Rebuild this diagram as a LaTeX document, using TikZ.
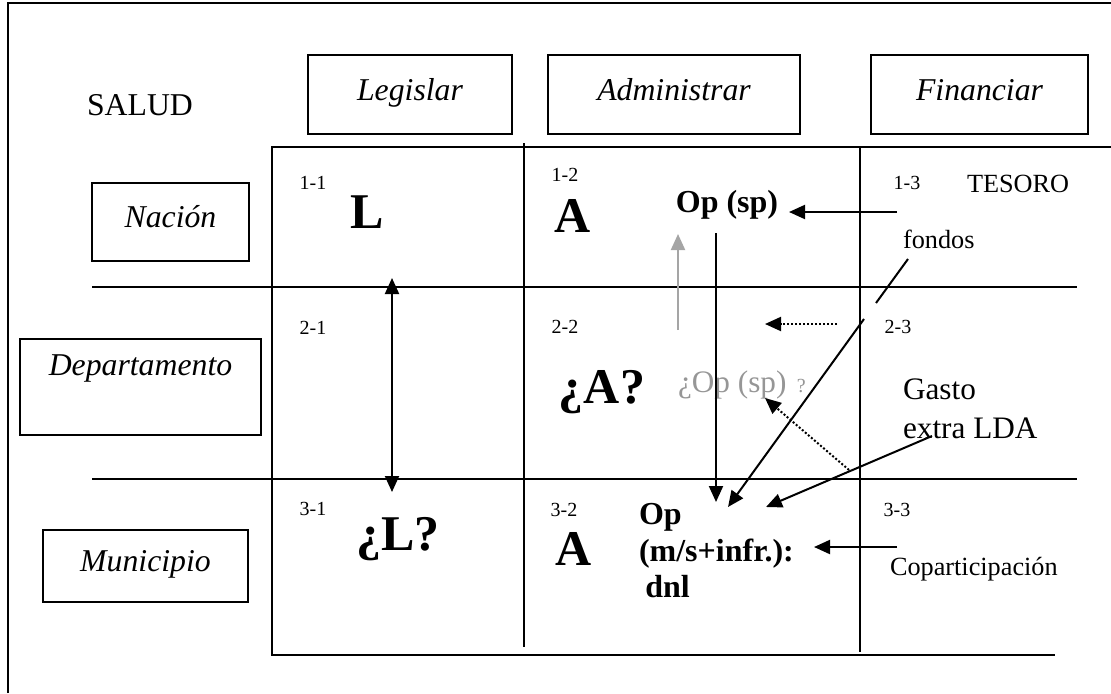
\documentclass[tikz,border=0pt]{standalone}
\usepackage{fontspec}
\setmainfont{Liberation Serif}
\usetikzlibrary{arrows.meta}
\definecolor{softgray}{RGB}{150,150,150}
\definecolor{arrowgray}{RGB}{165,165,165}
\begin{document}
\begin{tikzpicture}[x=0.4pt, y=-0.4pt, line width=0.8pt,
  txt/.style={inner sep=0pt, outer sep=0pt},
  head/.style={draw, line width=0.8pt, inner sep=0pt,
    text height=0.7em, text depth=0.25em,
    font=\fontsize{12.7}{15}\selectfont\itshape},
  cellno/.style={txt, font=\fontsize{8}{9.6}\selectfont},
  big/.style={txt, font=\fontsize{20}{24}\selectfont\bfseries},
  op/.style={txt, font=\fontsize{12.8}{14.6}\selectfont\bfseries},
  note/.style={txt, font=\fontsize{10.5}{12.6}\selectfont},
  tip/.style={-{Triangle[length=6.4pt, width=5.6pt]}},
  dots/.style={dash pattern=on 0.8pt off 0.8pt}
]
\useasboundingbox (0,0) rectangle (1111,693);

% outer frame
\draw (8,693) -- (8,3) -- (1111,3);

% title
\node[txt, font=\fontsize{12.7}{15}\selectfont] (salud) at (140,105) {SALUD};

% column headings
\node[head, minimum width=81.6pt, minimum height=31.6pt] (legislar) at (410,94.5) {Legislar};
\node[head, minimum width=100.8pt, minimum height=31.6pt] (administrar) at (674,94.5) {Administrar};
\node[head, minimum width=86.8pt, minimum height=31.6pt] (financiar) at (979.5,94.5) {Financiar};

% row headings
\node[head, minimum width=62.8pt, minimum height=31.2pt] (nacion) at (170.5,222) {Nación};
\node[head, minimum width=96.4pt, minimum height=38.4pt] (depbox) at (140.5,387) {};
\node[txt, text height=0.7em, text depth=0.25em, font=\fontsize{12.7}{15}\selectfont\itshape] (departamento) at (140.5,370) {Departamento};
\node[head, minimum width=82pt, minimum height=28.8pt] (municipio) at (145.5,566) {Municipio};

% grid
\draw (1111,147) -- (272,147) -- (272,655) -- (1055,655);
\draw (524,143) -- (524,647);
\draw (860,146) -- (860,652);
\draw (92,287) -- (1077,287);
\draw (92,479) -- (1077,479);

% cell numbers
\node[cellno] (c11) at (313,183) {1-1};
\node[cellno] (c12) at (565,175) {1-2};
\node[cellno] (c13) at (907,183) {1-3};
\node[cellno] (c21) at (313,328) {2-1};
\node[cellno] (c22) at (565,327) {2-2};
\node[cellno] (c23) at (898,327) {2-3};
\node[cellno] (c31) at (313,509) {3-1};
\node[cellno] (c32) at (564,510) {3-2};
\node[cellno] (c33) at (897,510) {3-3};

% cell contents
\node[big] (L1) at (367,212) {L};
\node[big] (A1) at (573,216) {A};
\node[big] (A2) at (602,392) {¿A?};
\node[big] (L3) at (398,539) {¿L?};
\node[big] (A3) at (574,549) {A};

\node[op] (opsp) at (727,205) {Op (sp)};
\node[txt, text=softgray, font=\fontsize{12.5}{15}\selectfont, anchor=west] (opdep) at (678,385)
  {¿Op (sp)\,\,{\fontsize{8}{9.6}\selectfont ?}};
\node[op, anchor=west, align=left] (opmun) at (639,551) {Op\\(m/s+infr.):\\\hspace{0.2em}dnl};

\node[note, anchor=west] (tesoro) at (967,184) {TESORO};
\node[note, anchor=west] (fondos) at (903,239) {fondos};
\node[txt, anchor=west, align=left, font=\fontsize{12.5}{15.6}\selectfont] (gasto) at (903,409) {Gasto\\extra LDA};
\node[note, anchor=west] (copart) at (890,569) {Coparticipación};

% connector end points
\coordinate (tesT) at (897,212);
\coordinate (tesH) at (789,212);
\coordinate (grayT) at (678,330);
\coordinate (grayH) at (678,234);
\coordinate (downT) at (716,233);
\coordinate (downH) at (716,502);
\coordinate (dotT) at (837,324);
\coordinate (dotH) at (765,324);
\coordinate (diagT) at (849,470);
\coordinate (diagH) at (765,398);
\coordinate (fonA) at (908,259);
\coordinate (fonB) at (876,303);
\coordinate (fonC) at (864,319);
\coordinate (fonH) at (728,507);
\coordinate (gasT) at (932,436);
\coordinate (gasH) at (766,507);
\coordinate (copT) at (897,547);
\coordinate (copH) at (814,547);
\coordinate (legT) at (392,278);
\coordinate (legB) at (392,492);

% connectors
\draw[tip] (tesT) -- (tesH);
\draw[tip, arrowgray] (grayT) -- (grayH);
\draw[tip] (downT) -- (downH);
\draw[tip, dots] (dotT) -- (dotH);
\draw[tip, dots] (diagT) -- (diagH);
\draw (fonA) -- (fonB);
\draw[tip] (fonC) -- (fonH);
\draw[tip] (gasT) -- (gasH);
\draw[tip] (copT) -- (copH);
\draw[{Triangle[length=6.4pt, width=5.6pt]}-{Triangle[length=6.4pt, width=5.6pt]}] (legT) -- (legB);
\end{tikzpicture}
\end{document}
